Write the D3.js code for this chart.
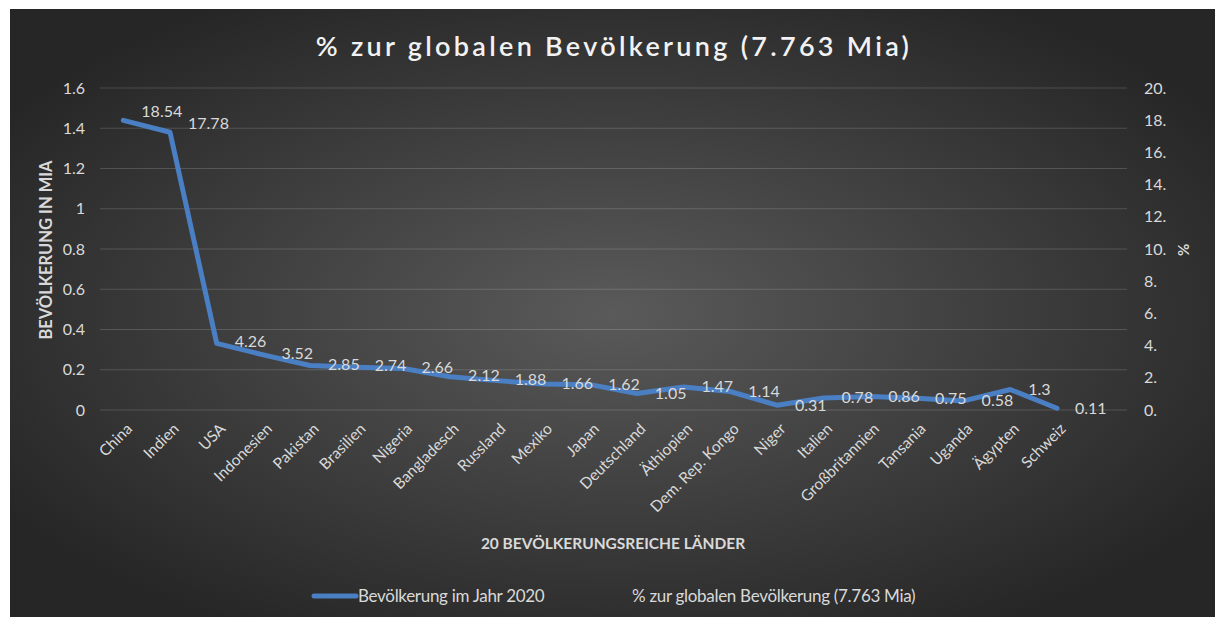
<!DOCTYPE html>
<html>
<head>
<meta charset="utf-8">
<script src="https://cdn.jsdelivr.net/npm/d3@7.9.0/dist/d3.min.js"></script>
<style>
  html, body { margin: 0; padding: 0; background: #fff; }
  svg { display: block; font-family: Lato, "Open Sans", sans-serif; }
</style>
</head>
<body>
<svg id="chart" width="1215" height="617"></svg>
<script>
// Länder (Kategorien)
const countries = ["China", "Indien", "USA", "Indonesien", "Pakistan", "Brasilien", "Nigeria",
  "Bangladesch", "Russland", "Mexiko", "Japan", "Deutschland", "Äthiopien", "Dem. Rep. Kongo",
  "Niger", "Italien", "Großbritannien", "Tansania", "Uganda", "Ägypten", "Schweiz"];

// Bevölkerung im Jahr 2020 (Mia)
const population = [1.439, 1.380, 0.331, 0.274, 0.221, 0.213, 0.206, 0.165, 0.146, 0.129, 0.126,
  0.082, 0.114, 0.092, 0.024, 0.060, 0.067, 0.058, 0.045, 0.102, 0.0087];

// % zur globalen Bevölkerung
const percent = [18.54, 17.78, 4.26, 3.52, 2.85, 2.74, 2.66, 2.12, 1.88, 1.66, 1.62,
  1.05, 1.47, 1.14, 0.31, 0.78, 0.86, 0.75, 0.58, 1.3, 0.11];

const leftTicks = [0, 0.2, 0.4, 0.6, 0.8, 1, 1.2, 1.4, 1.6];
const rightTicks = [0, 2, 4, 6, 8, 10, 12, 14, 16, 18, 20];

const svg = d3.select("#chart");
const txt = "#d9d9d9";

// background
const defs = svg.append("defs");
const grad = defs.append("radialGradient").attr("id", "bg")
  .attr("cx", "50%").attr("cy", "50%").attr("r", "60%");
grad.append("stop").attr("offset", "0%").attr("stop-color", "#5a5a5a");
grad.append("stop").attr("offset", "100%").attr("stop-color", "#262626");
svg.append("rect").attr("x", 10).attr("y", 9).attr("width", 1205).attr("height", 608)
  .attr("fill", "url(#bg)");

const plotL = 100, plotR = 1127, plotT = 88, plotB = 410;

// 22 slots, the last one empty
const x = d3.scaleBand().domain(countries.concat([" "])).range([plotL, plotR]);
const cx = d => x(d) + x.bandwidth() / 2;
const y = d3.scaleLinear().domain([0, 1.6]).range([plotB, plotT]);
const y2 = d3.scaleLinear().domain([0, 20]).range([plotB, plotT]);

// gridlines
svg.append("g").selectAll("line").data(leftTicks).join("line")
  .attr("x1", plotL).attr("x2", plotR)
  .attr("y1", d => y(d)).attr("y2", d => y(d))
  .attr("stroke", "#ffffff").attr("stroke-opacity", 0.16).attr("stroke-width", 1);

// left axis
const yAxis = d3.axisLeft(y).tickValues(leftTicks).tickSize(0).tickPadding(15)
  .tickFormat(d => String(d));
svg.append("g").attr("transform", `translate(${plotL},0)`).call(yAxis)
  .call(g => g.select(".domain").remove())
  .selectAll("text").attr("fill", txt).style("font-size", "16px")
  .style("font-family", "Lato, sans-serif");

// right axis
const y2Axis = d3.axisRight(y2).tickValues(rightTicks).tickSize(0).tickPadding(17)
  .tickFormat(d => d + ".");
svg.append("g").attr("transform", `translate(${plotR},0)`).call(y2Axis)
  .call(g => g.select(".domain").remove())
  .selectAll("text").attr("fill", txt).style("font-size", "16px")
  .style("font-family", "Lato, sans-serif");

// category labels
svg.append("g").selectAll("text").data(countries).join("text")
  .attr("transform", d => `translate(${cx(d) + 6},${plotB + 16}) rotate(-45)`)
  .attr("text-anchor", "end").attr("dy", "0.35em")
  .attr("fill", txt).style("font-size", "15.5px")
  .text(d => d);

// population line
const line = d3.line().x((d, i) => cx(countries[i])).y(d => y(d));
svg.append("path").datum(population)
  .attr("d", line)
  .attr("fill", "none").attr("stroke", "#4a7fc4").attr("stroke-width", 5)
  .attr("stroke-linejoin", "round").attr("stroke-linecap", "round");

// % data labels (invisible series)
svg.append("g").selectAll("text").data(percent).join("text")
  .attr("x", (d, i) => cx(countries[i]) + 18)
  .attr("y", d => y2(d))
  .attr("dy", "0.35em")
  .attr("fill", txt).style("font-size", "16px")
  .text(d => d);

// title
svg.append("text").attr("x", 614).attr("y", 56).attr("text-anchor", "middle")
  .attr("fill", "#f2f2f2").style("font-size", "27px").style("letter-spacing", "3.3px")
  .style("font-weight", 600)
  .text("% zur globalen Bevölkerung (7.763 Mia)");

// axis titles
svg.append("text").attr("transform", "translate(52,250) rotate(-90)")
  .attr("text-anchor", "middle").attr("fill", txt)
  .style("font-size", "16.5px").style("font-weight", "bold")
  .text("BEVÖLKERUNG IN MIA");

svg.append("text").attr("transform", "translate(1178,250) rotate(90)")
  .attr("text-anchor", "middle").attr("fill", txt)
  .style("font-size", "15px").style("font-weight", "bold")
  .text("%");

svg.append("text").attr("x", 613).attr("y", 549).attr("text-anchor", "middle")
  .attr("fill", txt).style("font-size", "15.5px").style("font-weight", "bold")
  .text("20 BEVÖLKERUNGSREICHE LÄNDER");

// legend
const legend = svg.append("g");
legend.append("line").attr("x1", 314).attr("x2", 356).attr("y1", 596).attr("y2", 596)
  .attr("stroke", "#4a7fc4").attr("stroke-width", 5).attr("stroke-linecap", "round");
legend.append("text").attr("x", 358).attr("y", 596).attr("dy", "0.35em")
  .attr("fill", txt).style("font-size", "17px").style("letter-spacing", "-0.3px")
  .text("Bevölkerung im Jahr 2020");
legend.append("text").attr("x", 632).attr("y", 596).attr("dy", "0.35em")
  .attr("fill", txt).style("font-size", "17px").style("letter-spacing", "-0.3px")
  .text("% zur globalen Bevölkerung (7.763 Mia)");
</script>
</body>
</html>
